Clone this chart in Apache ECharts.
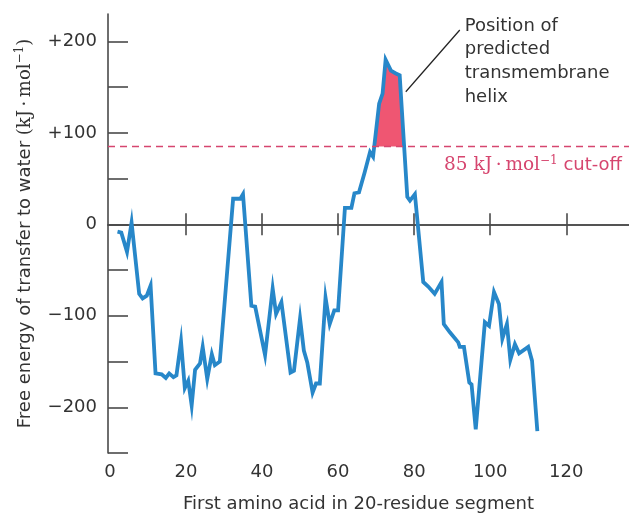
<!DOCTYPE html>
<html><head><meta charset="utf-8">
<script src="https://cdn.jsdelivr.net/npm/echarts@6/dist/echarts.min.js"></script>
<style>html,body{margin:0;padding:0;background:#fff}#c{width:629px;height:513px}</style>
</head><body><div id="c"></div>
<script>
// First amino acid of each 20-residue segment
const residue = [2,3,4.5,5.7,7.7,8.6,9.7,10.7,12,13.6,14.7,15.6,16.7,17.5,18.7,19.7,20.6,21.5,22.4,23.7,24.4,25.6,26.8,27.6,28.9,32.4,34.3,35,37.2,38.2,40.8,42.8,43.7,45.1,47.5,48.4,50,51,51.9,53.3,54.2,55.2,56.7,57.8,59,60,61.8,63.5,64.3,65.5,67,68.4,69.2,70.8,71.7,72.5,73.9,75.2,76.2,78.2,78.9,80.2,82.4,83.7,85.4,87.2,87.8,89.4,91.6,92,93.1,94.5,95.1,96.2,98.6,99.7,101,102.3,103.2,104.4,105.3,106.5,107.6,110,111,112.4];
// Free energy of transfer to water (kJ/mol)
const energy = [-8,-9,-30,2,-76,-81,-78,-67,-163,-164,-168,-163,-167,-165,-128,-179,-171,-198,-159,-152,-134,-169,-142,-154,-150,28,28,33,-89,-90,-143,-70,-98,-85,-162,-160,-103,-138,-151,-184,-174,-174,-80,-109,-94,-94,18,18,34,35,57,79,74,132,143,180,168,165,163,30,26,33,-63,-68,-76,-63,-109,-118,-129,-134,-134,-173,-175,-224,-107,-111,-74,-87,-125,-109,-148,-131,-141,-134,-149,-226];
const cutoff = 85;
const yLabelValues = [-200,-100,0,100,200];
const yTickValues = [-250,-200,-150,-100,-50,0,50,100,150,200];
const xLabelValues = [0,20,40,60,80,100,120];
const xTickValues = [20,40,60,80,100,120];
const annotationText = ['Position of','predicted','transmembrane','helix'];

const SANS = 'DejaVu Sans', SERIF = 'DejaVu Serif';
const AX = '#4a4a4a', TXT = '#333333', BLUE = '#2787c9', PINK = '#d6466f', FILL = '#ef5672';

const points = residue.map((x,i)=>[x, energy[i]]);

function helixPolygon(api){
  const pts=[];
  for(let i=0;i<residue.length;i++){
    const x=residue[i], y=energy[i];
    if(i>0){
      const px=residue[i-1], py=energy[i-1];
      if((py-cutoff)*(y-cutoff)<0){
        const t=(cutoff-py)/(y-py);
        pts.push(api.coord([px+t*(x-px), cutoff]));
      }
    }
    if(y>=cutoff) pts.push(api.coord([x,y]));
  }
  return pts;
}

const xBase = {type:'value', min:-0.5, max:136.5, splitLine:{show:false}};
const chart = echarts.init(document.getElementById('c'), null, {renderer:'canvas'});
chart.setOption({
  animation:false,
  backgroundColor:'#fff',
  grid:{left:108, right:0, top:14, bottom:60, containLabel:false, outerBoundsMode:'none'},
  xAxis:[
    Object.assign({}, xBase, {
      position:'bottom',
      axisLine:{show:false, onZero:false},
      axisTick:{show:false},
      axisLabel:{customValues:xLabelValues, margin:10, fontFamily:SANS, fontSize:18, color:TXT},
      name:'First amino acid in 20-residue segment',
      nameLocation:'middle', nameGap:42,
      nameTextStyle:{fontFamily:SANS, fontSize:18, color:TXT, padding:[0,20,0,0]}
    }),
    Object.assign({}, xBase, {
      position:'bottom',
      axisLine:{show:true, onZero:true, onZeroAxisIndex:0, lineStyle:{color:AX, width:1.6}},
      axisTick:{show:true, inside:true, length:11, customValues:xTickValues, lineStyle:{color:AX, width:1.6}},
      axisLabel:{show:false}
    }),
    Object.assign({}, xBase, {
      position:'bottom',
      axisLine:{show:true, onZero:true, onZeroAxisIndex:0, lineStyle:{color:AX, width:1.6}},
      axisTick:{show:true, inside:false, length:11, customValues:xTickValues, lineStyle:{color:AX, width:1.6}},
      axisLabel:{show:false}
    })
  ],
  yAxis:{
    type:'value', min:-250, max:230, interval:50,
    splitLine:{show:false},
    axisLine:{show:true, onZero:false, lineStyle:{color:AX, width:1.6}},
    axisTick:{show:true, inside:true, length:20, customValues:yTickValues, lineStyle:{color:AX, width:1.6}},
    axisLabel:{customValues:yLabelValues, margin:11, fontFamily:SANS, fontSize:18, color:TXT,
      formatter:v=> v>0 ? '+'+v : (v<0 ? '\u2212'+Math.abs(v) : '0')},
    name:'{a|Free energy of transfer to water }{b|(kJ\u2009\u00b7\u2009mol}{c|\u22121}{b|)}',
    nameLocation:'middle', nameGap:72,
    nameTextStyle:{
      rich:{
        a:{fontFamily:SANS, fontSize:18, color:TXT, lineHeight:22},
        b:{fontFamily:SERIF, fontSize:18, color:TXT, lineHeight:22},
        c:{fontFamily:SERIF, fontSize:12, color:TXT, lineHeight:14, verticalAlign:'top'}
      }
    }
  },
  series:[
    {
      type:'custom', xAxisIndex:0, yAxisIndex:0, z:1, silent:true,
      data:[[0,0]],
      renderItem:(params, api)=>({type:'polygon', shape:{points:helixPolygon(api)}, style:{fill:FILL}})
    },
    {
      type:'line', xAxisIndex:0, yAxisIndex:0, z:3, data:points,
      showSymbol:false, symbol:'none', smooth:false,
      lineStyle:{color:BLUE, width:3.8, join:'miter'},
      markLine:{
        silent:true, symbol:['none','none'], animation:false,
        data:[
          {yAxis:cutoff,
           lineStyle:{type:[7,5], color:PINK, width:1.3},
           label:{show:true, position:'insideEndBottom', distance:[7,8],
             formatter:'{s|85 kJ\u2009\u00b7\u2009mol}{u|\u22121}{t| cut-off}',
             rich:{
               s:{fontFamily:SERIF, fontSize:18.5, color:PINK, lineHeight:22},
               u:{fontFamily:SERIF, fontSize:12, color:PINK, lineHeight:14, verticalAlign:'top'},
               t:{fontFamily:SANS, fontSize:18, color:PINK, lineHeight:22}
             }}
          },
          [
            {coord:[77.8,145], lineStyle:{type:'solid', color:'#222', width:1.2}, label:{show:false}},
            {coord:[92,212.5]}
          ]
        ]
      },
      markPoint:{
        silent:true, animation:false,
        data:[{coord:[93.3,230], symbol:'circle', symbolSize:0.01,
          label:{show:true, position:[0,0], align:'left', verticalAlign:'top',
            formatter:annotationText.join('\n'), fontFamily:SANS, fontSize:18, lineHeight:23.7, color:TXT}}]
      }
    }
  ]
});
</script></body></html>
